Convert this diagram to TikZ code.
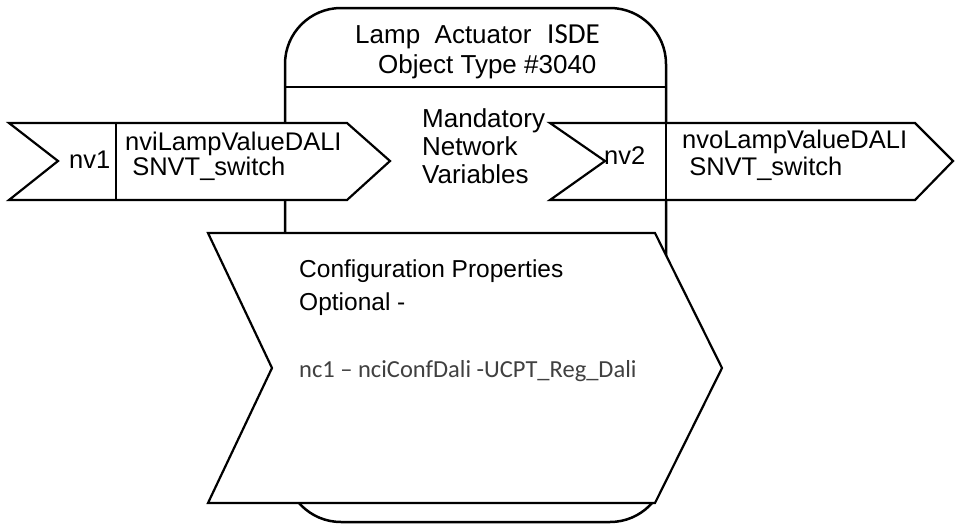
\documentclass[tikz,border=0pt]{standalone}
\usepackage{fontspec}
\setmainfont{Liberation Sans}
\newfontfamily\calib{Carlito}
\begin{document}
\begin{tikzpicture}[x=1pt,y=-1pt, line join=miter,
  outl/.style={draw=black, line width=2.2pt, fill=white},
  sep/.style={draw=black, line width=1.7pt},
  lab/.style={anchor=base west, inner sep=0pt, font=\fontsize{25.5}{28}\selectfont},
  ttl/.style={anchor=base west, inner sep=0pt, font=\fontsize{26}{28}\selectfont},
  cfg/.style={anchor=base west, inner sep=0pt, font=\fontsize{24.5}{28}\selectfont},
  ]
\useasboundingbox (0,0) rectangle (955,525);
% main functional block
\draw[outl, line width=2.5pt, rounded corners=56pt] (285,8) rectangle (666,522);
\coordinate (dl) at (285,87);
\coordinate (dr) at (666,87);
\draw[sep] (dl) -- (dr);
\node[ttl] (t1) at (355,43) {Lamp\ \ Actuator};
\node[anchor=base west, inner sep=0pt, font=\calib\fontsize{29}{30}\selectfont] (t2) at (547,43) {ISDE};
\node[ttl] (t3) at (378,73) {Object Type \#3040};
\node[ttl] (m1) at (422,127) {Mandatory};
\node[ttl] (m2) at (422,155) {Network};
\node[ttl] (m3) at (422,183) {Variables};
% input nv1
\draw[outl] (9,123) -- (347,123) -- (390,161) -- (347,200) -- (9,200) -- (58,161) -- cycle;
\coordinate (a1t) at (116,123);
\coordinate (a1b) at (116,200);
\draw[sep] (a1t) -- (a1b);
\node[lab] (nv1) at (69,168) {nv1};
\node[lab] (i1) at (125,150) {nviLampValueDALI};
\node[lab] (i2) at (125,175) {\ SNVT\_switch};
% output nv2
\draw[outl] (550,123) -- (915,123) -- (953,161) -- (915,200) -- (550,200) -- (605,161) -- cycle;
\coordinate (a2t) at (666,123);
\coordinate (a2b) at (666,200);
\draw[sep] (a2t) -- (a2b);
\node[lab] (nv2) at (604,164) {nv2};
\node[lab] (o1) at (682,148) {nvoLampValueDALI};
\node[lab] (o2) at (682,175) {\ SNVT\_switch};
% configuration properties
\draw[outl] (208,233) -- (655,233) -- (722,368) -- (655,503) -- (208,503) -- (272,368) -- cycle;
\node[cfg] (c1) at (299,277) {Configuration Properties};
\node[cfg] (c2) at (299,310) {Optional -};
\node[anchor=base west, inner sep=0pt, text=black!75, font=\calib\fontsize{24.5}{28}\selectfont] (c3) at (299,377) {nc1 – nciConfDali -UCPT\_Reg\_Dali};
\end{tikzpicture}
\end{document}
